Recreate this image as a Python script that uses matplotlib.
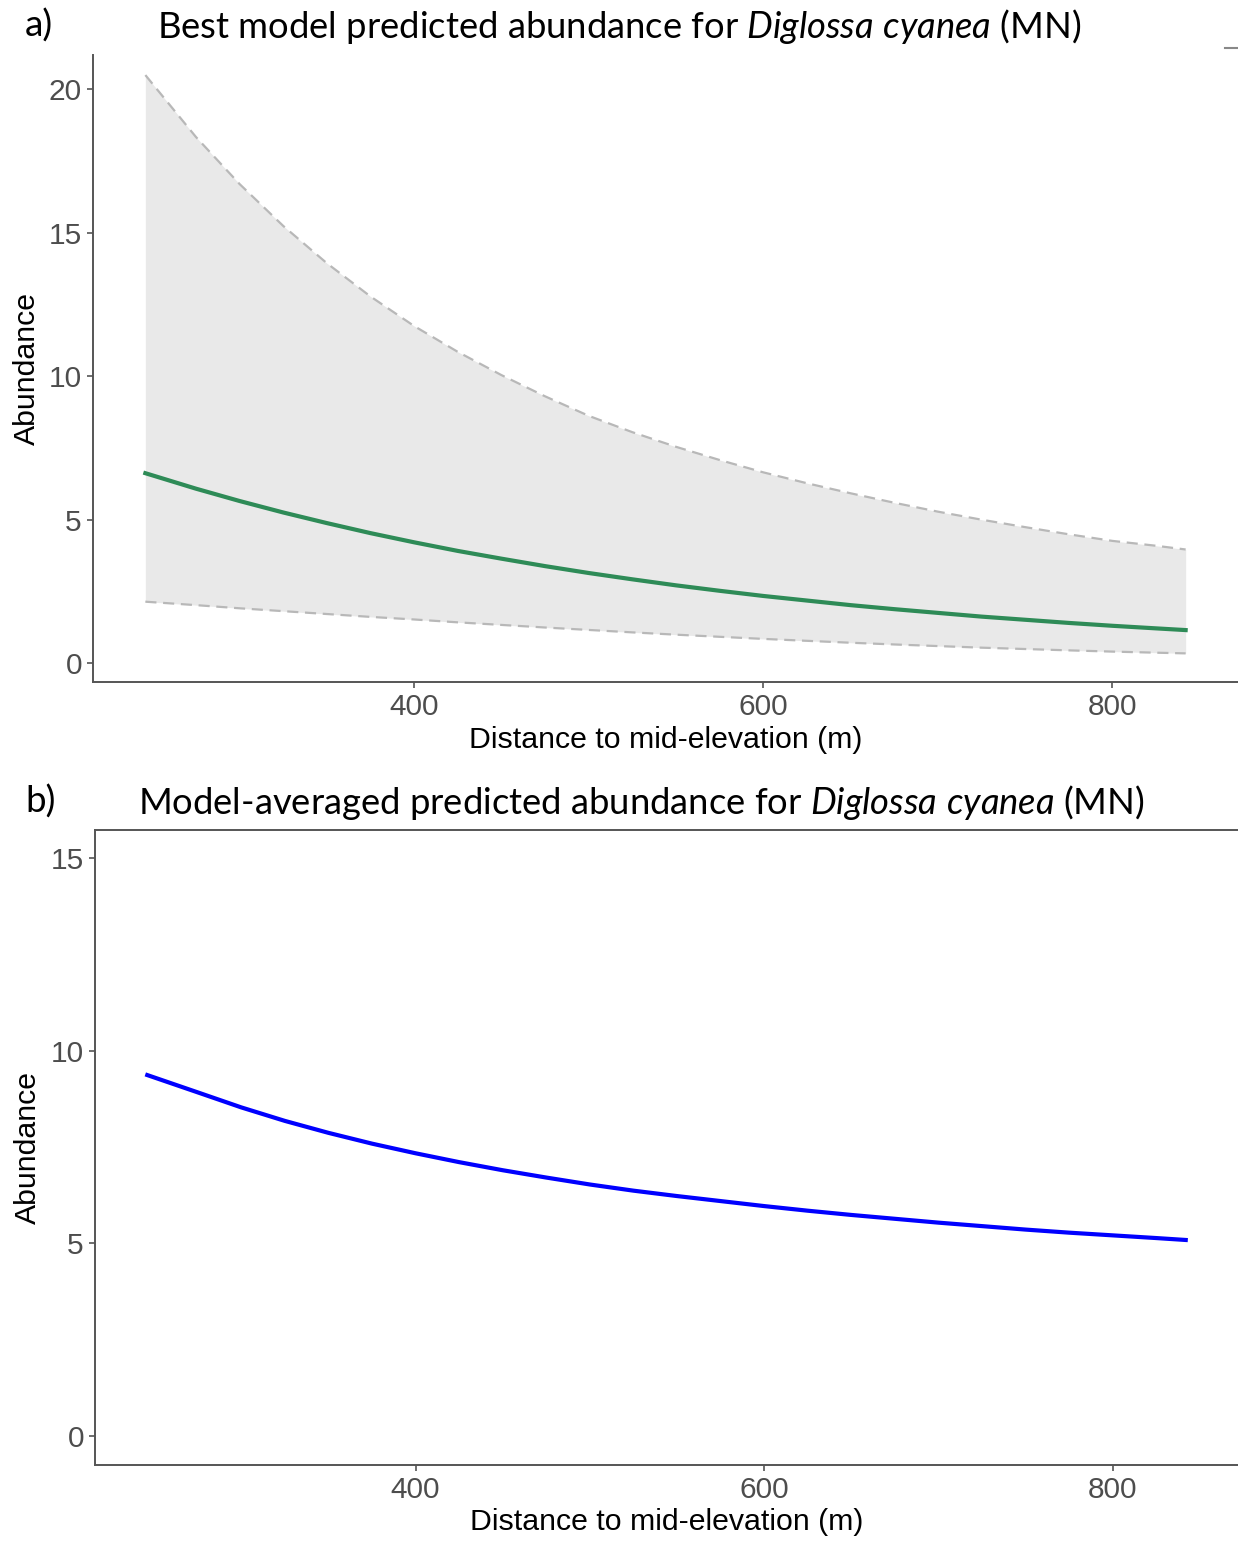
import matplotlib
matplotlib.use('Agg')
from matplotlib import pyplot as plt
from matplotlib.lines import Line2D

# distance to mid-elevation (m)
distance = [246, 275, 300, 325, 350, 375, 400, 425, 450, 475, 500, 525, 550,
            575, 600, 625, 650, 675, 700, 725, 750, 775, 800, 825, 842]

# a) best model prediction with confidence band
best_fit = [6.62, 6.08, 5.65, 5.25, 4.88, 4.53, 4.21, 3.91, 3.64, 3.38, 3.14, 2.92, 2.71,
            2.52, 2.34, 2.18, 2.02, 1.88, 1.75, 1.62, 1.51, 1.40, 1.30, 1.21, 1.15]
best_upper = [20.5, 18.34, 16.70, 15.24, 13.94, 12.78, 11.75, 10.85, 10.04, 9.30, 8.62, 8.05, 7.54,
              7.08, 6.65, 6.27, 5.92, 5.59, 5.28, 5.00, 4.74, 4.49, 4.26, 4.09, 3.96]
best_lower = [2.14, 2.02, 1.91, 1.81, 1.71, 1.61, 1.52, 1.42, 1.33, 1.24, 1.155, 1.07, 0.99,
              0.916, 0.843, 0.776, 0.709, 0.649, 0.593, 0.537, 0.49, 0.443, 0.40, 0.362, 0.338]

# b) model-averaged prediction
avg_fit = [9.37, 8.92, 8.53, 8.18, 7.87, 7.59, 7.34, 7.11, 6.90, 6.71, 6.53, 6.37, 6.23,
           6.10, 5.97, 5.85, 5.74, 5.64, 5.54, 5.45, 5.36, 5.28, 5.21, 5.14, 5.09]

x_ticks = [400, 600, 800]

W, H = 1238, 1541
AXIS_COL = '#555555'
TICK_COL = '#4d4d4d'

plt.rcParams['font.family'] = ['Liberation Sans', 'DejaVu Sans']
plt.rcParams['mathtext.fontset'] = 'custom'
plt.rcParams['mathtext.rm'] = 'Lato'
plt.rcParams['mathtext.it'] = 'Lato:italic'


def px_axes(fig, left, top, right, bottom):
    return fig.add_axes([left / W, 1 - bottom / H, (right - left) / W, (bottom - top) / H])


def style_axes(ax, yticks, top_spine=False):
    ax.spines['right'].set_visible(False)
    ax.spines['top'].set_visible(top_spine)
    for side in ['left', 'bottom', 'top']:
        ax.spines[side].set_color(AXIS_COL)
        ax.spines[side].set_linewidth(1.4)
    ax.set_xlim(216, 872)
    ax.set_xticks(x_ticks)
    ax.set_yticks(yticks)
    ax.tick_params(colors=AXIS_COL, labelcolor=TICK_COL, labelsize=21.5, length=4, width=1.2, pad=4)
    ax.set_xlabel('Distance to mid-elevation (m)', fontsize=21.8, color='black')
    ax.set_ylabel('Abundance', fontsize=21.8, color='black')
    ax.yaxis.label.set_va('center')
    ax.xaxis.label.set_va('center')


def main():
    fig = plt.figure(figsize=(W / 100, H / 100), dpi=100)

    ax1 = px_axes(fig, 93, 55, 1238, 682)
    ax1.fill_between(distance, best_lower, best_upper, color='#e9e9e9', lw=0, zorder=1)
    ax1.plot(distance, best_upper, color='#b8b8b8', lw=1.6, dashes=(5, 3), zorder=2)
    ax1.plot(distance, best_lower, color='#b8b8b8', lw=1.6, dashes=(5, 3), zorder=2)
    ax1.plot(distance, best_fit, color='#2e8b57', lw=3, zorder=3)
    ax1.set_ylim(-0.66, 21.2)
    style_axes(ax1, [0, 5, 10, 15, 20])
    ax1.yaxis.set_label_coords((27 - 93) / 1145, 0.5)
    ax1.xaxis.set_label_coords(0.5, (682 - 740) / 627)

    ax2 = px_axes(fig, 95, 830, 1238, 1465)
    ax2.plot(distance, avg_fit, color='#0000ff', lw=3, zorder=3)
    ax2.set_ylim(-0.75, 15.73)
    style_axes(ax2, [0, 5, 10, 15], top_spine=True)
    ax2.yaxis.set_label_coords((28 - 95) / 1143, 0.5)
    ax2.xaxis.set_label_coords(0.5, (1465 - 1522) / 635)

    # small border fragment at the top right of panel a
    fig.add_artist(Line2D([1225 / W, 1.0], [1 - 48 / H, 1 - 48 / H], color='#888888', lw=1.5))

    fig.text(25 / W, 1 - 26 / H, 'a)', fontsize=26.5, family='Lato', va='center', ha='left')
    fig.text(157 / W, 1 - 26 / H, r'Best model predicted abundance for $\it{Diglossa\ cyanea}$ (MN)',
             fontsize=26.2, family='Lato', va='center', ha='left')
    fig.text(25 / W, 1 - 802 / H, 'b)', fontsize=26.5, family='Lato', va='center', ha='left')
    fig.text(138 / W, 1 - 802 / H, r'Model-averaged predicted abundance for $\it{Diglossa\ cyanea}$ (MN)',
             fontsize=26.2, family='Lato', va='center', ha='left')

    fig.savefig('out.png', dpi=100)


if __name__ == '__main__':
    main()
